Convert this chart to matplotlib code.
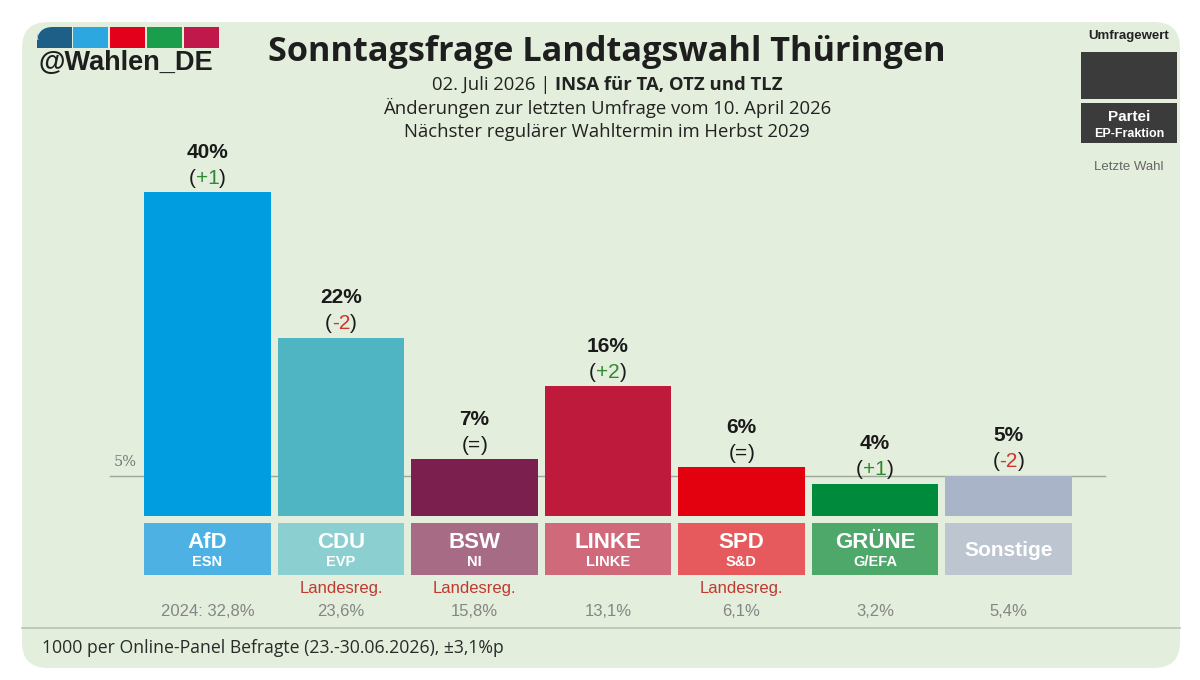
import matplotlib
matplotlib.use("Agg")
import matplotlib.pyplot as plt
import matplotlib.transforms as mtransforms
from matplotlib.patches import FancyBboxPatch, Rectangle

parties = ["AfD", "CDU", "BSW", "LINKE", "SPD", "GRÜNE", "Sonstige"]
fractions = ["ESN", "EVP", "NI", "LINKE", "S&D", "G/EFA", ""]
values = [40, 22, 7, 16, 6, 4, 5]
changes = ["+1", "-2", "=", "+2", "=", "+1", "-2"]
previous = ["2024: 32,8%", "23,6%", "15,8%", "13,1%", "6,1%", "3,2%", "5,4%"]
government = [False, True, True, False, True, False, False]
bar_colors = ["#009ee0", "#4fb5c3", "#7b1f4e", "#be1a3c", "#e3000f", "#008a3b", "#a9b4c9"]
box_colors = ["#4db2e3", "#8ccfd0", "#a86b86", "#d06a7b", "#e6595c", "#4ea86a", "#bcc5d0"]
logo_colors = ["#1d5f87", "#2ca7e0", "#e3001b", "#1a9e4c", "#c0184a"]

W, H = 1200, 680
BG = "#e3eedc"
fig = plt.figure(figsize=(W / 100, H / 100), dpi=100)
fig.patch.set_facecolor("white")

# decoration layer in pixel coordinates (y down)
deco = fig.add_axes([0, 0, 1, 1])
deco.set_xlim(0, W)
deco.set_ylim(H, 0)
deco.axis("off")
deco.add_patch(FancyBboxPatch((22, 22), 1158, 646, boxstyle="round,pad=0,rounding_size=26",
                              fc=BG, ec="none"))
deco.plot([22, 1180], [628, 628], color="#b9c3b3", lw=1.2)

# logo
xs = [37, 73, 110, 147, 184]
for x0, c in zip(xs[1:], logo_colors[1:]):
    deco.add_patch(Rectangle((x0, 27), 35, 21, fc=c, ec="none"))
deco.add_patch(FancyBboxPatch((37, 27), 35, 21, boxstyle="round,pad=0,rounding_size=16",
                              fc=logo_colors[0], ec="none"))
deco.add_patch(Rectangle((54, 27), 18, 21, fc=logo_colors[0], ec="none"))
deco.add_patch(Rectangle((37, 40), 35, 8, fc=logo_colors[0], ec="none"))
deco.text(38, 63, "@Wahlen_DE", fontsize=19.5, fontweight="bold", family="Liberation Sans",
          color="#1e1e1e", ha="left", va="center")

# legend box top right
deco.text(1129, 36, "Umfragewert", fontsize=9.5, fontweight="bold", family="Liberation Sans",
          color="#222222", ha="center", va="center")
deco.add_patch(Rectangle((1081, 52), 96, 47, fc="#3b3b3b", ec="none"))
deco.add_patch(Rectangle((1081, 103), 96, 40, fc="#3b3b3b", ec="none"))
deco.text(1129, 117, "Partei", fontsize=11, fontweight="bold", family="Liberation Sans",
          color="white", ha="center", va="center")
deco.text(1129, 134, "EP-Fraktion", fontsize=9, fontweight="bold", family="Liberation Sans",
          color="white", ha="center", va="center")
deco.text(1129, 167, "Letzte Wahl", fontsize=9.5, family="Liberation Sans",
          color="#666666", ha="center", va="center")

# titles
deco.text(607, 52, "Sonntagsfrage Landtagswahl Thüringen", fontsize=24.7, fontweight="bold",
          family="Open Sans", color="#1e1e1e", ha="center", va="center")
renderer = fig.canvas.get_renderer()
t1 = deco.text(0, 85, "02. Juli 2026 | ", fontsize=13.3, family="Open Sans", color="#222222",
               ha="left", va="center")
t2 = deco.text(0, 85, "INSA für TA, OTZ und TLZ", fontsize=13.3, fontweight="bold",
               family="Open Sans", color="#222222", ha="left", va="center")
w1 = t1.get_window_extent(renderer).width
w2 = t2.get_window_extent(renderer).width
x_start = 607 - (w1 + w2) / 2
t1.set_x(x_start)
t2.set_x(x_start + w1)
deco.text(607, 108, "Änderungen zur letzten Umfrage vom 10. April 2026", fontsize=13.3,
          family="Open Sans", color="#222222", ha="center", va="center")
deco.text(607, 132, "Nächster regulärer Wahltermin im Herbst 2029", fontsize=13.3,
          family="Open Sans", color="#222222", ha="center", va="center")
deco.text(42, 648, "1000 per Online-Panel Befragte (23.-30.06.2026), ±3,1%p", fontsize=12.7,
          family="Open Sans", color="#2a2a2a", ha="left", va="center")

# chart layer: x = party index, y = percent
ax = fig.add_axes([0, 0, 1, 1])
ax.patch.set_alpha(0)
pitch = 133.5
ax.set_xlim((0 - 207.5) / pitch, (W - 207.5) / pitch)
px = 8.1
ax.set_ylim(-164 / px, (H - 164) / px)
ax.axis("off")

idx = list(range(len(parties)))
ax.plot([(110 - 207.5) / pitch, (1105 - 207.5) / pitch], [5, 5], color="#9ea59a", lw=1, zorder=1)
ax.text((125 - 207.5) / pitch, 5 + 13 / px, "5%", fontsize=10.5, color="#777777",
        family="DejaVu Serif", ha="center", va="center")
ax.bar(idx, values, width=0.945, color=bar_colors, zorder=2)
box_top, box_bot = -7 / px, -59 / px
ax.bar(idx, [box_top - box_bot] * len(idx), bottom=box_bot, width=0.945, color=box_colors, zorder=2)

for i in idx:
    v = values[i]
    ax.text(i, v + 40 / px, f"{v}%", fontsize=15, fontweight="bold", family="Liberation Sans",
            color="#1a1a1a", ha="center", va="center")
    ch = changes[i]
    col = "#2f8a2f" if ch.startswith("+") else ("#d2332f" if ch.startswith("-") else "#1a1a1a")
    yc = v + 14 / px
    mid = ax.text(i, yc, ch, fontsize=15, family="Liberation Sans", color=col,
                  ha="center", va="center")
    hw = mid.get_window_extent(renderer).width / 2
    ax.text(i, yc, "(", fontsize=15, family="Liberation Sans", color="#1a1a1a", ha="right",
            va="center", transform=mtransforms.offset_copy(ax.transData, fig, x=-hw, units="dots"))
    ax.text(i, yc, ")", fontsize=15, family="Liberation Sans", color="#1a1a1a", ha="left",
            va="center", transform=mtransforms.offset_copy(ax.transData, fig, x=hw, units="dots"))

    if fractions[i]:
        ax.text(i, -26 / px, parties[i], fontsize=16, fontweight="bold", family="Liberation Sans",
                color="white", ha="center", va="center", zorder=3)
        ax.text(i, -46 / px, fractions[i], fontsize=10.5, fontweight="bold", family="Liberation Sans",
                color="white", ha="center", va="center", zorder=3)
    else:
        ax.text(i, -34 / px, parties[i], fontsize=15, fontweight="bold", family="Liberation Sans",
                color="white", ha="center", va="center", zorder=3)
    if government[i]:
        ax.text(i, -73 / px, "Landesreg.", fontsize=12, family="Liberation Sans",
                color="#c0392f", ha="center", va="center")
    ax.text(i, -95 / px, previous[i], fontsize=12, family="Liberation Sans",
            color="#858585", ha="center", va="center")

fig.savefig("out.png", dpi=100, facecolor="white")
